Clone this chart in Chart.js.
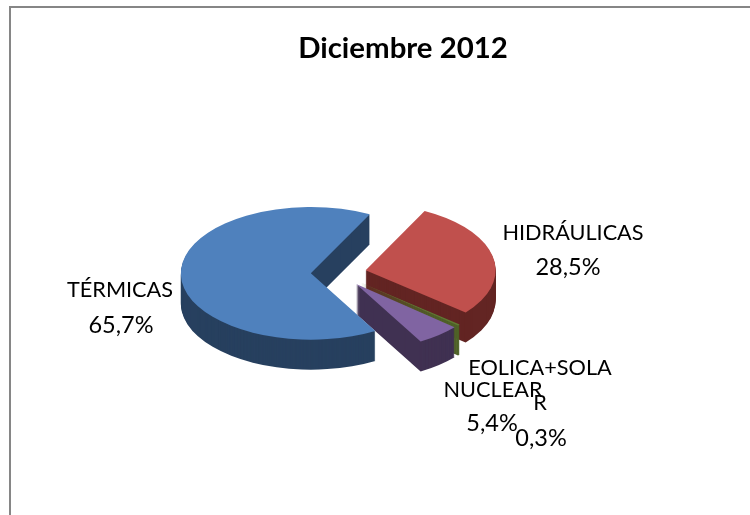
<!DOCTYPE html>
<html><head><meta charset="utf-8">
<style>html,body{margin:0;padding:0;background:#fff}#wrap{width:750px;height:515px;position:relative}</style>
<script src="https://cdn.jsdelivr.net/npm/chart.js@4"></script>
</head><body><div id="wrap"><canvas id="c" width="750" height="515"></canvas></div>
<script>
const categories = ['HIDRÁULICAS','EOLICA+SOLAR','NUCLEAR','TÉRMICAS'];
const values = [28.5,0.3,5.4,65.7];
const valueLabels = ['28,5%','0,3%','5,4%','65,7%'];
const topColors = ['#c0504d','#5f7a33','#8064a2','#4f81bd'];
const sideColors = ['#632523','#4f6228','#403152','#27405f'];
const titleText = 'Diciembre 2012';
const labelLines = [
  [['HIDRÁULICAS',573,233],['28,5%',568,267]],
  [['EOLICA+SOLA',540,368],['R',540,403],['0,3%',541,438]],
  [['NUCLEAR',493,390],['5,4%',492,423]],
  [['TÉRMICAS',120,290],['65,7%',121,325]]
];
const PIE = {cx:338.5, cy:273, sy:0.51, depth:30, explode:27.7};
const drawOrder = [0,1,2,3];

const pie3d = {
  id:'pie3d',
  beforeDraw(chart){
    const c = chart.ctx;
    c.save();
    c.fillStyle='#fff'; c.fillRect(0,0,chart.width,chart.height);
    c.fillStyle='#868686';
    c.fillRect(9,6,chart.width-9,2);
    c.fillRect(9,6,2,chart.height-6);
    c.restore();
  },
  beforeDatasetsDraw(chart){
    const c = chart.ctx, arcs = chart.getDatasetMeta(0).data;
    const path = (a,d)=>{
      const p = a.getProps(['x','y','startAngle','endAngle','outerRadius']);
      const mid = (p.startAngle+p.endAngle)/2;
      c.save();
      c.translate(PIE.cx, PIE.cy+d);
      c.scale(1,PIE.sy);
      c.translate(Math.cos(mid)*PIE.explode, Math.sin(mid)*PIE.explode);
      c.beginPath();
      c.moveTo(0,0);
      c.arc(0,0,p.outerRadius,p.startAngle,p.endAngle);
      c.closePath();
      c.fill();
      c.restore();
    };
    drawOrder.forEach(i=>{
      c.fillStyle = sideColors[i];
      for(let d=PIE.depth;d>0;d--) path(arcs[i],d);
      c.fillStyle = topColors[i];
      path(arcs[i],0);
    });
    return false;
  },
  afterDraw(chart){
    const c = chart.ctx;
    c.save();
    c.fillStyle='#000';
    c.textAlign='center';
    c.textBaseline='middle';
    labelLines.forEach(g=>g.forEach(l=>{
      c.font = (l[0].includes('%') ? '23.5px' : '21.7px') + ' Lato';
      c.fillText(l[0],l[1],l[2]);
    }));
    c.restore();
  }
};

new Chart(document.getElementById('c'),{
  type:'pie',
  data:{labels:categories,datasets:[{data:values,backgroundColor:topColors,borderWidth:0}]},
  plugins:[pie3d],
  options:{
    responsive:false,animation:false,
    rotation:27,
    radius:130,
    layout:{padding:{left:56,top:31,right:0,bottom:0}},
    plugins:{
      legend:{display:false},
      tooltip:{enabled:false},
      title:{display:true,text:titleText,color:'#000',font:{family:'Lato',size:29.4,weight:'bold'},padding:{top:0,bottom:10}}
    }
  }
});
</script></body></html>
